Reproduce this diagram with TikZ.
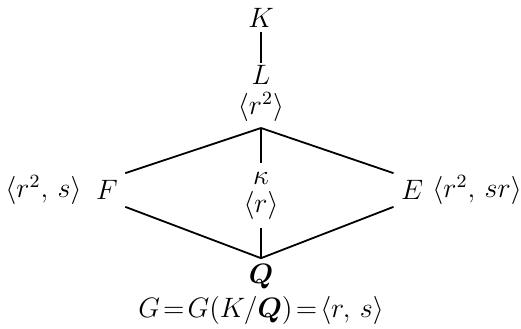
\documentclass[tikz,border=0pt]{standalone}
\usepackage{amsmath,amssymb,bm}
\usepackage{tikz}
\usetikzlibrary{calc}

\begin{document}
\begin{tikzpicture}[x=0.5pt, y=-0.5pt,
    lbl/.style={inner sep=0pt, font=\large, scale=1.17, transform shape},
    fld/.style={lbl, minimum height=14pt, inner xsep=3pt},
    edge/.style={line width=0.9pt}]
    \useasboundingbox (0,0) rectangle (521,328);
    % tower above the diamond
    \node[lbl] (K) at (261,18) {$K$};
    \node[lbl] (L) at (261,75) {$L$};
    \node[lbl] (Lg) at (261,107) {$\langle r^{2}\rangle$};
    \coordinate (top) at (261,128);
    % side fields and their groups
    \node[fld] (F) at (107,190) {$F$};
    \node[lbl, anchor=east] (Fg) at (82,190) {$\langle r^{2},\, s\rangle$};
    \node[fld] (E) at (412,190) {$E$};
    \node[lbl, anchor=west] (Eg) at (432,190) {$\langle r^{2},\, sr\rangle$};
    \node[lbl] (k) at (261,178) {$\kappa$};
    \node[lbl] (kg) at (261,205) {$\langle r\rangle$};
    % base field
    \node[lbl] (Q) at (261,277) {$\boldsymbol{Q}$};
    \node[lbl] (G) at (261,310) {$G\!=\!G(K/\boldsymbol{Q})\!=\!\langle r,\, s\rangle$};
    \draw[edge] ([yshift=-2pt]K.south) -- ([yshift=1pt]L.north);
    \draw[edge] (top) -- (F.north east);
    \draw[edge] (top) -- (E.north west);
    \draw[edge] (top) -- ([yshift=4pt]k.north);
    \draw[edge] (F.south east) -- ([yshift=3pt]Q.north);
    \draw[edge] (E.south west) -- ([yshift=3pt]Q.north);
    \draw[edge] ([yshift=-4pt]kg.south) -- ([yshift=3pt]Q.north);
\end{tikzpicture}
\end{document}
